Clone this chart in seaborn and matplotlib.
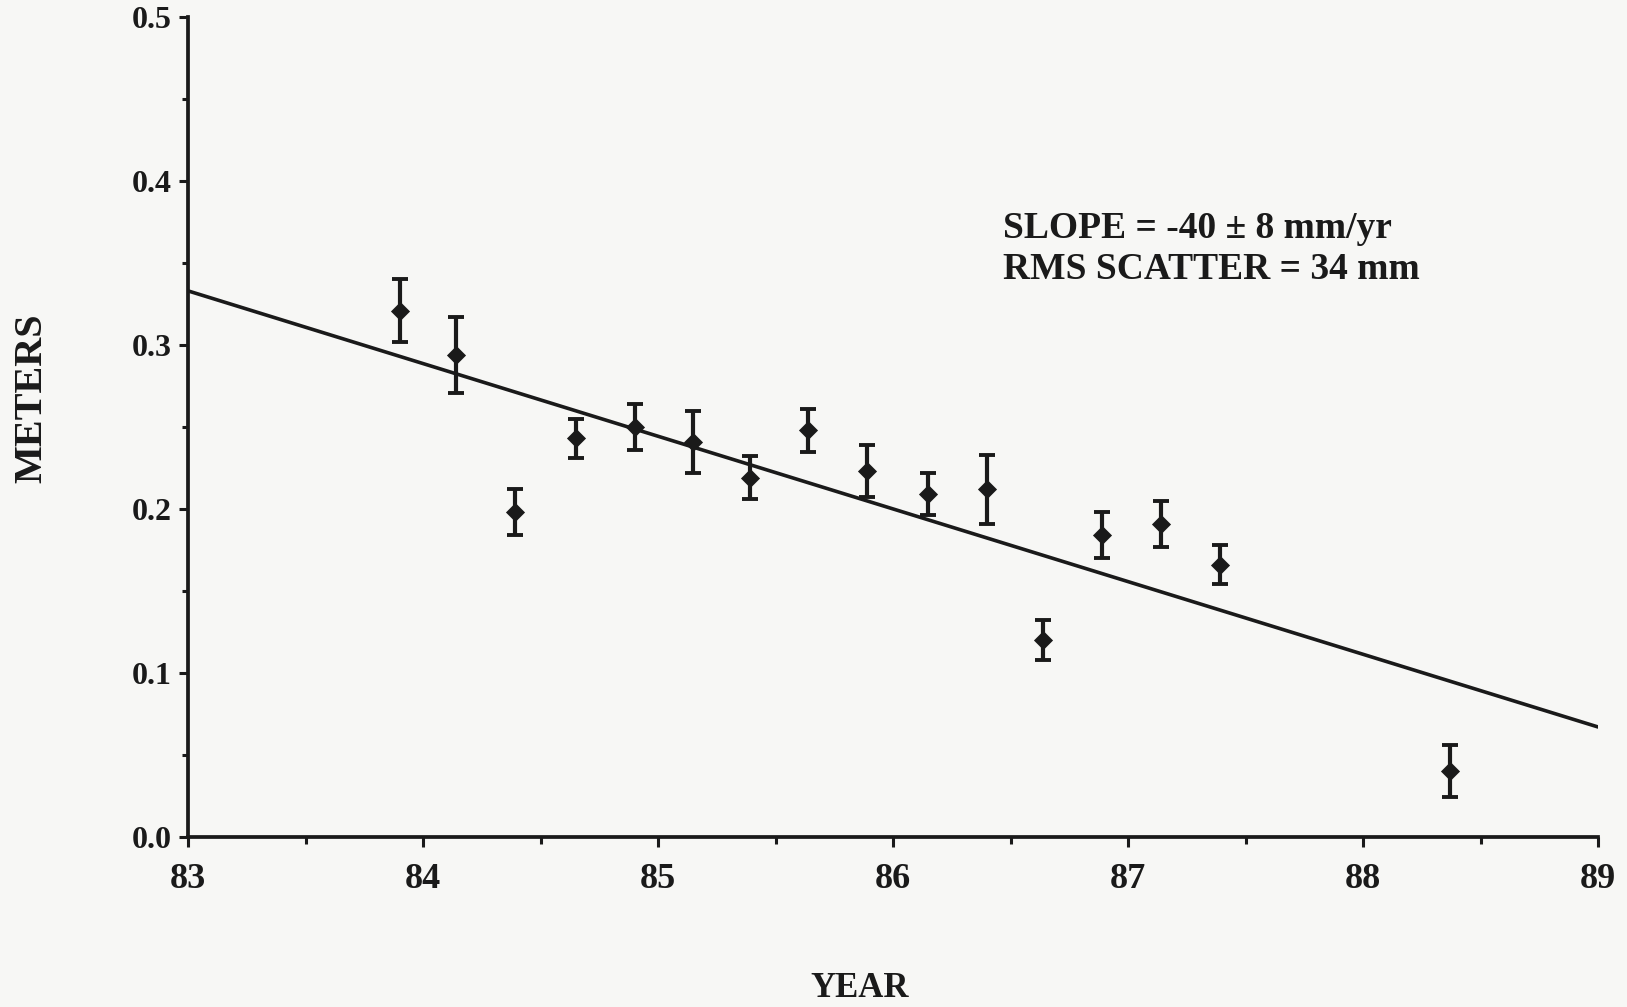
import matplotlib
matplotlib.use("Agg")
import matplotlib.pyplot as plt
import seaborn as sns
import pandas as pd
from matplotlib.ticker import MultipleLocator

# ---- data ----
years = [83.90, 84.14, 84.39, 84.65, 84.90, 85.15, 85.39, 85.64,
         85.89, 86.15, 86.40, 86.64, 86.89, 87.14, 87.39, 88.37]
meters = [0.321, 0.294, 0.198, 0.243, 0.250, 0.241, 0.219, 0.248,
          0.223, 0.209, 0.212, 0.120, 0.184, 0.191, 0.166, 0.040]
errors = [0.019, 0.023, 0.014, 0.012, 0.014, 0.019, 0.013, 0.013,
          0.016, 0.013, 0.021, 0.012, 0.014, 0.014, 0.012, 0.016]
fit_years = [83.0, 89.0]
fit_meters = [0.333, 0.067]
x_ticks = [83, 84, 85, 86, 87, 88, 89]
y_ticks = [0.0, 0.1, 0.2, 0.3, 0.4, 0.5]
y_tick_labels = ["0.0", "0.1", "0.2", "0.3", "0.4", "0.5"]
annot_lines = ["SLOPE = -40 \u00b1 8 mm/yr", "RMS SCATTER = 34 mm"]

df = pd.DataFrame({"YEAR": years, "METERS": meters, "ERR": errors})
fit = pd.DataFrame({"YEAR": fit_years, "METERS": fit_meters})

sns.set_theme(style="ticks")
plt.rcParams["font.family"] = ["Liberation Serif", "DejaVu Serif"]
plt.rcParams["font.weight"] = "bold"

bg = "#f7f7f5"
ink = "#1a1a1a"
fig = plt.figure(figsize=(16.27, 10.07), dpi=100, facecolor=bg)
ax = fig.add_axes([0.1156, 0.169, 0.8666, 0.814], facecolor=bg)

# regression line
sns.lineplot(data=fit, x="YEAR", y="METERS", ax=ax, color=ink, linewidth=2.6)
# error bars
ax.errorbar(df["YEAR"], df["METERS"], yerr=df["ERR"], fmt="none",
            ecolor=ink, elinewidth=3.0, capsize=6, capthick=2.8, zorder=3)
# diamond markers
sns.scatterplot(data=df, x="YEAR", y="METERS", ax=ax, marker="D", s=95,
                color=ink, edgecolor=ink, linewidth=0, zorder=4)

ax.set_xlim(83, 89)
ax.set_ylim(0, 0.5)
ax.set_xticks(x_ticks)
ax.set_xticklabels([str(t) for t in x_ticks], fontsize=26, fontweight="bold")
ax.set_yticks(y_ticks)
ax.set_yticklabels(y_tick_labels, fontsize=23, fontweight="bold")
ax.xaxis.set_minor_locator(MultipleLocator(0.5))
ax.yaxis.set_minor_locator(MultipleLocator(0.05))

ax.tick_params(axis="x", which="major", length=7, width=2.2, pad=12, colors=ink)
ax.tick_params(axis="x", which="minor", length=5, width=2.2, colors=ink)
ax.tick_params(axis="y", which="major", length=6.5, width=2.2, pad=5, colors=ink)
ax.tick_params(axis="y", which="minor", length=4, width=2.2, colors=ink)

for side in ["top", "right"]:
    ax.spines[side].set_visible(False)
for side in ["left", "bottom"]:
    ax.spines[side].set_linewidth(2.7)
    ax.spines[side].set_color(ink)

ax.set_xlabel("YEAR", fontsize=25, fontweight="bold", color=ink)
ax.set_ylabel("METERS", fontsize=29, fontweight="bold", color=ink)
ax.xaxis.label.set_va("center")
ax.yaxis.label.set_va("center")
ax.xaxis.set_label_coords(0.476, -0.185)
ax.yaxis.set_label_coords(-0.111, 0.535)

ax.text(86.468, 0.365, annot_lines[0], fontsize=27, fontweight="bold",
        color=ink, va="baseline", ha="left")
ax.text(86.468, 0.3405, annot_lines[1], fontsize=27, fontweight="bold",
        color=ink, va="baseline", ha="left")

fig.savefig("out.png", dpi=100, facecolor=bg)
